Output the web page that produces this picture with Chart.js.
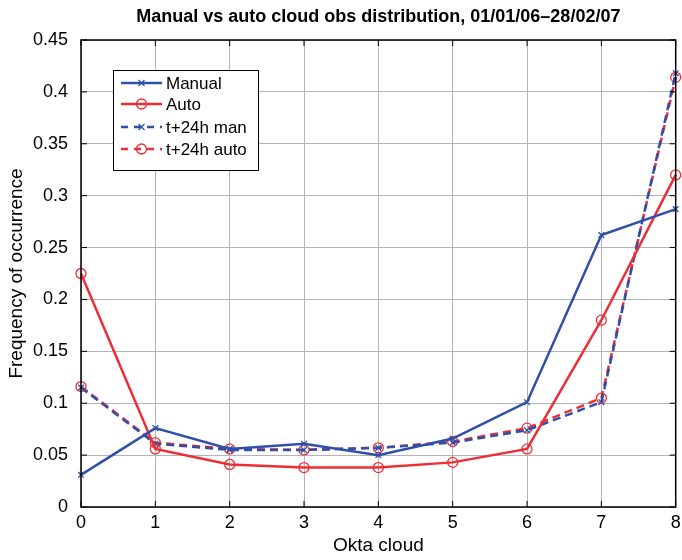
<!DOCTYPE html>
<html>
<head>
<meta charset="utf-8">
<script src="https://cdn.jsdelivr.net/npm/chart.js@4/dist/chart.umd.min.js"></script>
<style>
  html, body { margin: 0; padding: 0; background: #fff; }
  #wrap { width: 682px; height: 560px; }
</style>
</head>
<body>
<div id="wrap"><canvas id="cloud-chart" width="682" height="560"></canvas></div>
<script>
var oktas = [0, 1, 2, 3, 4, 5, 6, 7, 8];
var manual = [0.031, 0.076, 0.056, 0.061, 0.050, 0.066, 0.101, 0.262, 0.287];
var auto = [0.225, 0.056, 0.041, 0.038, 0.038, 0.043, 0.056, 0.180, 0.320];
var man24 = [0.115, 0.061, 0.055, 0.055, 0.057, 0.062, 0.074, 0.101, 0.418];
var auto24 = [0.116, 0.062, 0.056, 0.055, 0.057, 0.063, 0.076, 0.105, 0.414];
var yTicks = [0, 0.05, 0.1, 0.15, 0.2, 0.25, 0.3, 0.35, 0.4, 0.45];

var BLUE = '#3050a8';
var RED = '#ee2d37';
var FONT = '"Liberation Sans", Arial, sans-serif';

function pts(vals) {
  return vals.map(function(v, i) { return { x: oktas[i], y: v }; });
}

function series(label, vals, color, marker, dashed) {
  return {
    label: label,
    data: pts(vals),
    borderColor: color,
    backgroundColor: 'rgba(0,0,0,0)',
    borderWidth: 2.5,
    borderDash: dashed ? [8, 5] : [],
    pointStyle: marker,
    pointRadius: marker === 'circle' ? 5 : 4,
    pointBorderWidth: 1.3,
    pointBorderColor: color,
    pointBackgroundColor: 'rgba(0,0,0,0)',
    tension: 0,
    clip: false
  };
}

// legend box + inner tick marks, drawn on top like MATLAB
var extras = {
  id: 'extras',
  afterDatasetsDraw: function(chart) {
    var c = chart.ctx, a = chart.chartArea;
    var xs = chart.scales.x, ys = chart.scales.y;
    c.save();
    // frame
    c.strokeStyle = '#000';
    c.lineWidth = 1.5;
    c.strokeRect(a.left, a.top, a.right - a.left, a.bottom - a.top);
    c.lineWidth = 1;
    oktas.forEach(function(v) {
      var px = xs.getPixelForValue(v);
      c.beginPath(); c.moveTo(px, a.bottom); c.lineTo(px, a.bottom - 6); c.stroke();
      c.beginPath(); c.moveTo(px, a.top); c.lineTo(px, a.top + 6); c.stroke();
    });
    yTicks.forEach(function(v) {
      var py = ys.getPixelForValue(v);
      c.beginPath(); c.moveTo(a.left, py); c.lineTo(a.left + 6, py); c.stroke();
      c.beginPath(); c.moveTo(a.right, py); c.lineTo(a.right - 6, py); c.stroke();
    });

    // legend
    var bx = 113, by = 70, bw = 145, bh = 100;
    c.fillStyle = '#fff';
    c.fillRect(bx, by, bw, bh);
    c.strokeStyle = '#000';
    c.lineWidth = 1;
    c.strokeRect(bx + 0.5, by + 0.5, bw, bh);
    var rows = [83, 104, 127, 149];
    chart.data.datasets.forEach(function(ds, i) {
      var y = rows[i];
      c.strokeStyle = ds.borderColor;
      c.lineWidth = 2.5;
      c.setLineDash(ds.borderDash.length ? [7, 6] : []);
      c.beginPath(); c.moveTo(121, y); c.lineTo(162, y); c.stroke();
      c.setLineDash([]);
      c.lineWidth = 1.3;
      if (ds.pointStyle === 'circle') {
        c.beginPath(); c.arc(141.5, y, 5, 0, Math.PI * 2); c.stroke();
      } else {
        c.beginPath();
        c.moveTo(138.5, y - 3); c.lineTo(144.5, y + 3);
        c.moveTo(144.5, y - 3); c.lineTo(138.5, y + 3);
        c.stroke();
      }
      c.fillStyle = '#000';
      c.font = '17px ' + FONT;
      c.textAlign = 'left';
      c.textBaseline = 'middle';
      c.fillText(ds.label, 166, y + 1);
    });
    c.restore();
  }
};

var ctx = document.getElementById('cloud-chart').getContext('2d');
new Chart(ctx, {
  type: 'line',
  data: {
    datasets: [
      series('Manual', manual, BLUE, 'crossRot', false),
      series('Auto', auto, RED, 'circle', false),
      series('t+24h man', man24, BLUE, 'crossRot', true),
      series('t+24h auto', auto24, RED, 'circle', true)
    ]
  },
  options: {
    responsive: false,
    animation: false,
    layout: { padding: { top: 0, right: 5, left: 0, bottom: 0 } },
    scales: {
      x: {
        type: 'linear',
        min: 0, max: 8,
        afterBuildTicks: function(s) { s.ticks = oktas.map(function(v) { return { value: v }; }); },
        afterFit: function(s) { s.height = 53; s.paddingRight = 0; s.paddingLeft = 0; },
        grid: { color: '#b4b4b4', lineWidth: 1, drawTicks: false },
        border: { display: false },
        ticks: { color: '#000', padding: 5, maxRotation: 0, font: { family: FONT, size: 18 } },
        title: { display: true, text: 'Okta cloud', color: '#000', padding: { top: 0, bottom: 3 }, font: { family: FONT, size: 19 } }
      },
      y: {
        min: 0, max: 0.45,
        afterBuildTicks: function(s) { s.ticks = yTicks.map(function(v) { return { value: v }; }); },
        afterFit: function(s) { s.width = 81; },
        grid: { color: '#b4b4b4', lineWidth: 1, drawTicks: false },
        border: { display: false },
        ticks: { color: '#000', padding: 13, font: { family: FONT, size: 18 },
          callback: function(v) { return String(Math.round(v * 100) / 100); } },
        title: { display: true, text: 'Frequency of occurrence', color: '#000', padding: { top: 5, bottom: 0 }, font: { family: FONT, size: 19 } }
      }
    },
    plugins: {
      legend: { display: false },
      tooltip: { enabled: false },
      title: {
        display: true,
        fullSize: false,
        text: 'Manual vs auto cloud obs distribution, 01/01/06\u201328/02/07',
        color: '#000',
        font: { family: FONT, size: 18, weight: 'bold' },
        padding: { top: 6, bottom: 12.4 }
      }
    }
  },
  plugins: [extras]
});
</script>
</body>
</html>
